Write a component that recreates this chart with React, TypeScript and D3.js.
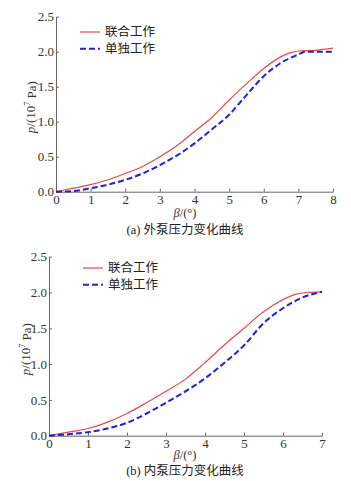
import React, { useEffect, useRef } from 'react';
import * as d3 from 'd3';

// panel (a): outer pump
const betaA = [0, 0.5, 1, 1.5, 2, 2.5, 3, 3.5, 4, 4.5, 5, 5.5, 6, 6.5, 6.8, 7, 7.5, 8];
const jointA = [0, 0.05, 0.1, 0.17, 0.26, 0.36, 0.5, 0.66, 0.86, 1.06, 1.31, 1.54, 1.76, 1.93, 1.99, 2.01, 2.02, 2.05];
const singleBetaA = [0, 0.5, 1, 1.5, 2, 2.5, 3, 3.5, 4, 4.5, 5, 5.5, 6, 6.5, 7, 7.2, 7.5, 8];
const singleA = [0, 0.01, 0.05, 0.1, 0.17, 0.26, 0.38, 0.52, 0.69, 0.89, 1.1, 1.38, 1.65, 1.84, 1.96, 2.0, 2.0, 2.0];

// panel (b): inner pump
const betaB = [0, 0.5, 1, 1.5, 2, 2.5, 3, 3.5, 4, 4.5, 5, 5.5, 6, 6.3, 6.6, 7];
const jointB = [0, 0.05, 0.1, 0.19, 0.31, 0.46, 0.62, 0.79, 1.02, 1.27, 1.5, 1.73, 1.9, 1.97, 2.0, 2.01];
const singleBetaB = [0, 0.5, 1, 1.5, 2, 2.5, 3, 3.5, 4, 4.5, 5, 5.5, 6, 6.5, 7];
const singleB = [0, 0.02, 0.05, 0.1, 0.18, 0.31, 0.46, 0.62, 0.8, 1.02, 1.26, 1.57, 1.78, 1.93, 2.01];

const yTicks = [0, 0.5, 1.0, 1.5, 2.0, 2.5];
const seriesNames = ['联合工作', '单独工作'];

const serif = '"Liberation Serif", "Times New Roman", serif';
const cjk = '"Liberation Serif", "Noto Sans CJK SC", serif';
const red = '#e8474c';
const blue = '#2020dc';

interface PanelCfg {
  left: number; right: number; top: number; bottom: number;
  xMax: number;
  joint: [number[], number[]];
  single: [number[], number[]];
  legendX: number; legendY: number;
  yLabelX: number;
  xLabelY: number;
  caption: string; captionY: number;
}

const panels: PanelCfg[] = [
  {
    left: 56, right: 333, top: 16.7, bottom: 191.7, xMax: 8,
    joint: [betaA, jointA], single: [singleBetaA, singleA],
    legendX: 80, legendY: 32, yLabelX: 30, xLabelY: 213,
    caption: '(a) 外泵压力变化曲线', captionY: 230,
  },
  {
    left: 49, right: 322, top: 256.7, bottom: 435.7, xMax: 7,
    joint: [betaB, jointB], single: [singleBetaB, singleB],
    legendX: 83, legendY: 268, yLabelX: 25, xLabelY: 455,
    caption: '(b) 内泵压力变化曲线', captionY: 471,
  },
];

export default function App() {
  const svgRef = useRef<SVGSVGElement>(null);

  useEffect(() => {
    if (!svgRef.current) return;
    const svg = d3.select(svgRef.current);
    svg.selectAll('*').remove();

    panels.forEach(p => {
      const x = d3.scaleLinear().domain([0, p.xMax]).range([p.left, p.right]);
      const y = d3.scaleLinear().domain([0, 2.5]).range([p.bottom, p.top]);
      const g = svg.append('g');

      // x axis
      const xa = g.append('g')
        .attr('transform', `translate(0,${p.bottom})`)
        .call(d3.axisBottom(x).ticks(p.xMax).tickSizeInner(-3).tickSizeOuter(0).tickPadding(3));
      xa.select('.domain').attr('stroke', '#666');
      xa.selectAll('.tick line').attr('stroke', '#666');
      xa.selectAll('.tick text')
        .attr('font-family', serif).attr('font-size', 13).attr('fill', '#333');

      // y axis
      const ya = g.append('g')
        .attr('transform', `translate(${p.left},0)`)
        .call(d3.axisLeft(y).tickValues(yTicks).tickFormat(d3.format('.1f'))
          .tickSizeInner(-3).tickSizeOuter(0).tickPadding(2));
      ya.select('.domain').attr('stroke', '#666');
      ya.selectAll('.tick line').attr('stroke', '#666');
      ya.selectAll('.tick text')
        .attr('font-family', serif).attr('font-size', 13).attr('fill', '#333');

      const [jx, jy] = p.joint;
      g.append('path')
        .attr('d', d3.line<number>().x(i => x(jx[i])).y(i => y(jy[i])).curve(d3.curveMonotoneX)(d3.range(jx.length)))
        .attr('fill', 'none').attr('stroke', red).attr('stroke-width', 1.2);

      const [sx, sy] = p.single;
      g.append('path')
        .attr('d', d3.line<number>().x(i => x(sx[i])).y(i => y(sy[i])).curve(d3.curveMonotoneX)(d3.range(sx.length)))
        .attr('fill', 'none').attr('stroke', blue).attr('stroke-width', 2)
        .attr('stroke-dasharray', '6,3');

      // legend
      seriesNames.forEach((name, i) => {
        const ly = p.legendY + i * 16.7;
        g.append('line')
          .attr('x1', p.legendX).attr('x2', p.legendX + 20)
          .attr('y1', ly).attr('y2', ly)
          .attr('stroke', i === 0 ? red : blue)
          .attr('stroke-width', i === 0 ? 1.2 : 2)
          .attr('stroke-dasharray', i === 0 ? null : '6,3');
        g.append('text')
          .attr('x', p.legendX + 25).attr('y', ly)
          .attr('dy', '0.35em')
          .attr('font-family', cjk).attr('font-size', 12.5).attr('fill', '#222')
          .text(name);
      });

      // y label
      const yl = g.append('text')
        .attr('transform', `translate(${p.yLabelX},${(p.top + p.bottom) / 2 + 3}) rotate(-90)`)
        .attr('text-anchor', 'middle').attr('dy', '0.35em')
        .attr('font-family', serif).attr('font-size', 13).attr('fill', '#333');
      yl.append('tspan').attr('font-style', 'italic').text('p');
      yl.append('tspan').text('/(10');
      yl.append('tspan').attr('font-size', 8).attr('dy', '-0.6em').text('7');
      yl.append('tspan').attr('dy', '0.45em').text(' Pa)');

      // x label
      const xl = g.append('text')
        .attr('x', 185).attr('y', p.xLabelY)
        .attr('text-anchor', 'middle').attr('dy', '0.35em')
        .attr('font-family', serif).attr('font-size', 12.5).attr('fill', '#333');
      xl.append('tspan').attr('font-style', 'italic').text('β');
      xl.append('tspan').text('/(°)');

      // caption
      g.append('text')
        .attr('x', 185).attr('y', p.captionY)
        .attr('text-anchor', 'middle').attr('dy', '0.35em')
        .attr('font-family', cjk).attr('font-size', 12.5).attr('fill', '#222')
        .text(p.caption);
    });
  }, []);

  return (
    <div style={{ position: 'absolute', left: 0, top: 0, width: 351, height: 481, background: '#fff' }}>
      <svg ref={svgRef} width={351} height={481}></svg>
    </div>
  );
}
